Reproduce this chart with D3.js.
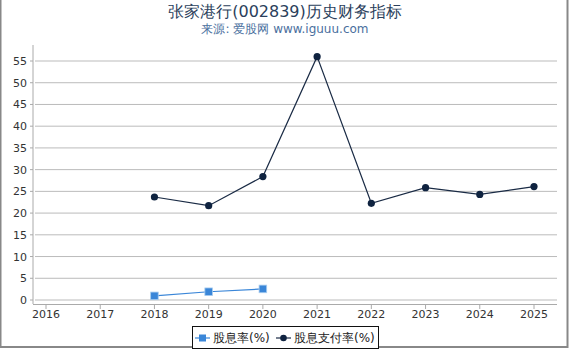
<!DOCTYPE html>
<html>
<head>
<meta charset="utf-8">
<script src="https://cdnjs.cloudflare.com/ajax/libs/d3/7.8.5/d3.min.js"></script>
<style>
  body { margin: 0; background: #fff; }
  svg { font-family: "DejaVu Sans", sans-serif; }
</style>
</head>
<body>
<div id="chart"></div>
<script>
var years = ['2016', '2017', '2018', '2019', '2020', '2021', '2022', '2023', '2024', '2025'];
var yieldRate = [null, null, 0.95, 1.9, 2.55, null, null, null, null, null];
var payoutRate = [null, null, 23.7, 21.7, 28.4, 56.0, 22.25, 25.85, 24.3, 26.1];
var yTicks = [0, 5, 10, 15, 20, 25, 30, 35, 40, 45, 50, 55];
var seriesNames = ['股息率(%)', '股息支付率(%)'];

var width = 570, height = 350;
var svg = d3.select('#chart').append('svg')
  .attr('width', width)
  .attr('height', height);

// frame
svg.append('rect').attr('x', 0.5).attr('y', -2).attr('width', 567).attr('height', 349)
  .attr('fill', 'none').attr('stroke', '#888').attr('stroke-width', 2);

svg.append('text').attr('x', 285).attr('y', 17).attr('text-anchor', 'middle')
  .attr('font-size', 16).attr('fill', '#2b3f5c').text('张家港行(002839)历史财务指标');
svg.append('text').attr('x', 285).attr('y', 33).attr('text-anchor', 'middle')
  .attr('font-size', 12).attr('fill', '#4a6f9e').text('来源: 爱股网 www.iguuu.com');

var x = d3.scalePoint().domain(years).range([46, 534]);
var y = d3.scaleLinear().domain([0, 55]).range([300, 61]);

// grid
svg.append('g').selectAll('line').data(yTicks).join('line')
  .attr('x1', 35).attr('x2', 557)
  .attr('y1', function(d) { return y(d); }).attr('y2', function(d) { return y(d); })
  .attr('stroke', '#bbb').attr('stroke-width', 1);

// y axis
svg.append('line').attr('x1', 33).attr('x2', 33).attr('y1', 45).attr('y2', 304)
  .attr('stroke', '#aaa');
svg.append('g').selectAll('text').data(yTicks).join('text')
  .attr('x', 27).attr('y', function(d) { return y(d) + 4; })
  .attr('text-anchor', 'end').attr('font-size', 11).attr('fill', '#333')
  .text(function(d) { return d; });
svg.append('g').selectAll('line').data(yTicks).join('line')
  .attr('x1', 30).attr('x2', 33)
  .attr('y1', function(d) { return y(d); }).attr('y2', function(d) { return y(d); })
  .attr('stroke', '#aaa');

// x axis
svg.append('line').attr('x1', 33).attr('x2', 557).attr('y1', 304.5).attr('y2', 304.5)
  .attr('stroke', '#aaa');
svg.append('g').selectAll('line').data(years).join('line')
  .attr('x1', function(d) { return x(d); }).attr('x2', function(d) { return x(d); })
  .attr('y1', 304).attr('y2', 309).attr('stroke', '#aaa');
svg.append('g').selectAll('text').data(years).join('text')
  .attr('x', function(d) { return x(d); }).attr('y', 318)
  .attr('text-anchor', 'middle').attr('font-size', 11).attr('fill', '#333')
  .text(function(d) { return d; });

function pts(vals) {
  return years.map(function(yr, i) { return { year: yr, v: vals[i] }; })
    .filter(function(d) { return d.v !== null; });
}
var line = d3.line().x(function(d) { return x(d.year); }).y(function(d) { return y(d.v); });

var payoutPts = pts(payoutRate);
svg.append('path').datum(payoutPts).attr('d', line)
  .attr('fill', 'none').attr('stroke', '#1a2b45').attr('stroke-width', 1.2);
svg.append('g').selectAll('circle').data(payoutPts).join('circle')
  .attr('cx', function(d) { return x(d.year); }).attr('cy', function(d) { return y(d.v); })
  .attr('r', 3.6).attr('fill', '#0f2340');

var yieldPts = pts(yieldRate);
svg.append('path').datum(yieldPts).attr('d', line)
  .attr('fill', 'none').attr('stroke', '#3a86d8').attr('stroke-width', 1.2);
svg.append('g').selectAll('rect').data(yieldPts).join('rect')
  .attr('x', function(d) { return x(d.year) - 3.8; }).attr('y', function(d) { return y(d.v) - 3.8; })
  .attr('width', 7.6).attr('height', 7.6)
  .attr('fill', '#3a86d8').attr('stroke', '#a8cdf0').attr('stroke-width', 0.8);

// legend
var lg = svg.append('g');
lg.append('rect').attr('x', 192.5).attr('y', 326.5).attr('width', 186).attr('height', 22)
  .attr('fill', '#fff').attr('stroke', '#111').attr('stroke-width', 1);
lg.append('line').attr('x1', 195).attr('x2', 210).attr('y1', 338).attr('y2', 338)
  .attr('stroke', '#3a86d8').attr('stroke-width', 1.2);
lg.append('rect').attr('x', 199).attr('y', 334.5).attr('width', 7).attr('height', 7)
  .attr('fill', '#3a86d8');
lg.append('text').attr('x', 213).attr('y', 342).attr('font-size', 12).attr('fill', '#222')
  .text(seriesNames[0]);
lg.append('line').attr('x1', 276).attr('x2', 291).attr('y1', 338).attr('y2', 338)
  .attr('stroke', '#1a2b45').attr('stroke-width', 1.2);
lg.append('circle').attr('cx', 283.5).attr('cy', 338).attr('r', 3.3).attr('fill', '#0f2340');
lg.append('text').attr('x', 294).attr('y', 342).attr('font-size', 12).attr('fill', '#222')
  .text(seriesNames[1]);
</script>
</body>
</html>
